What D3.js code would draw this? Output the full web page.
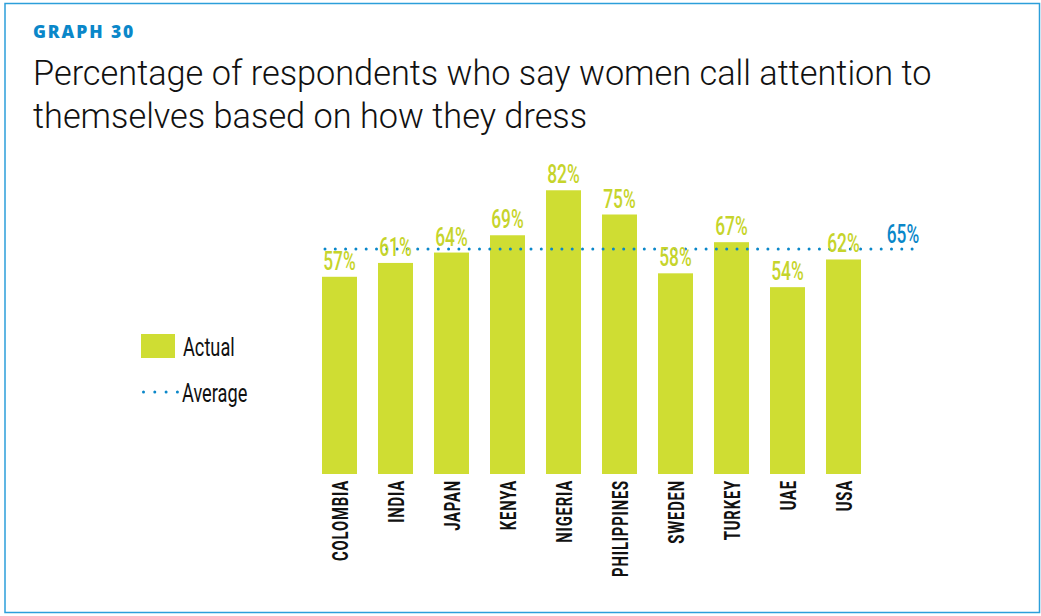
<!DOCTYPE html>
<html lang="en">
<head>
<meta charset="utf-8">
<title>Graph 30</title>
<script src="https://cdn.jsdelivr.net/npm/d3@7"></script>
<style>
  body { margin: 0; background: #fff; }
  .narrow { font-family: Roboto, "DejaVu Sans", sans-serif; }
</style>
</head>
<body>
<div id="chart"></div>
<script>
var countries = ["COLOMBIA", "INDIA", "JAPAN", "KENYA", "NIGERIA", "PHILIPPINES", "SWEDEN", "TURKEY", "UAE", "USA"];
var actual = [57, 61, 64, 69, 82, 75, 58, 67, 54, 62];
var average = 65;

var width = 1041, height = 616;
var green = "#cfdd33", greenText = "#c6d42b", blue = "#0a87c9";
var squeeze = 0.7; // no condensed font installed, so squash the text horizontally

var svg = d3.select("#chart").append("svg")
    .attr("width", width)
    .attr("height", height);

// frame
svg.append("rect")
    .attr("x", 5).attr("y", 3.5)
    .attr("width", 1034.5).attr("height", 609)
    .attr("fill", "none")
    .attr("stroke", "#2c9fda")
    .attr("stroke-width", 1.5);

svg.append("text")
    .attr("x", 33).attr("y", 38)
    .attr("font-family", "Open Sans, sans-serif")
    .attr("font-weight", 800)
    .attr("font-size", 17.5)
    .attr("letter-spacing", 1.9)
    .attr("fill", blue)
    .text("GRAPH 30");

var title = ["Percentage of respondents who say women call attention to", "themselves based on how they dress"];
svg.selectAll(".title").data(title).enter().append("text")
    .attr("class", "title")
    .attr("x", 33)
    .attr("y", function (d, i) { return 85 + i * 43; })
    .attr("font-family", "Roboto, sans-serif")
    .attr("font-weight", 300)
    .attr("font-size", 34.3)
    .attr("fill", "#111")
    .text(function (d) { return d; });

var x = d3.scaleBand()
    .domain(countries)
    .range([322, 861])
    .paddingInner(0.375)
    .paddingOuter(0);

var y = d3.scaleLinear()
    .domain([0, 100])
    .range([474, 128]);

svg.append("g").selectAll("rect")
    .data(countries)
    .enter().append("rect")
    .attr("x", function (d) { return x(d); })
    .attr("y", function (d, i) { return y(actual[i]); })
    .attr("width", x.bandwidth())
    .attr("height", function (d, i) { return y(0) - y(actual[i]); })
    .attr("fill", green);

// average dotted line
svg.append("line")
    .attr("x1", 325).attr("x2", 920)
    .attr("y1", y(average)).attr("y2", y(average))
    .attr("stroke", blue)
    .attr("stroke-width", 3)
    .attr("stroke-linecap", "round")
    .attr("stroke-dasharray", "0 10.3");

svg.append("g").selectAll("text")
    .data(countries)
    .enter().append("text")
    .attr("class", "narrow")
    .attr("transform", function (d, i) {
        return "translate(" + (x(d) + x.bandwidth() / 2) + "," + (y(actual[i]) - 7) + ") scale(0.68,1)";
    })
    .attr("text-anchor", "middle")
    .attr("font-size", 25.5)
    .attr("font-weight", 500)
    .attr("fill", greenText)
    .text(function (d, i) { return actual[i] + "%"; });

svg.append("text")
    .attr("class", "narrow")
    .attr("transform", "translate(903,243) scale(0.68,1)")
    .attr("text-anchor", "middle")
    .attr("font-size", 25.5)
    .attr("font-weight", 500)
    .attr("fill", blue)
    .text(average + "%");

// country labels
svg.append("g").selectAll("text")
    .data(countries)
    .enter().append("text")
    .attr("class", "narrow")
    .attr("transform", function (d) {
        return "translate(" + (x(d) + x.bandwidth() / 2 + 8) + ",480) rotate(-90) scale(0.66,1)";
    })
    .attr("text-anchor", "end")
    .attr("font-size", 22.5)
    .attr("font-weight", 700)
    .attr("letter-spacing", 1.2)
    .attr("fill", "#111")
    .text(function (d) { return d; });

// legend
svg.append("rect")
    .attr("x", 141).attr("y", 334)
    .attr("width", 34).attr("height", 24)
    .attr("fill", green);
svg.append("text")
    .attr("class", "narrow")
    .attr("transform", "translate(183,356) scale(" + squeeze + ",1)")
    .attr("font-size", 26)
    .attr("fill", "#111")
    .text("Actual");
svg.append("line")
    .attr("x1", 143.5).attr("x2", 180)
    .attr("y1", 392).attr("y2", 392)
    .attr("stroke", blue)
    .attr("stroke-width", 3)
    .attr("stroke-linecap", "round")
    .attr("stroke-dasharray", "0 11.3");
svg.append("text")
    .attr("class", "narrow")
    .attr("transform", "translate(182,402) scale(" + squeeze + ",1)")
    .attr("font-size", 26)
    .attr("fill", "#111")
    .text("Average");
</script>
</body>
</html>
